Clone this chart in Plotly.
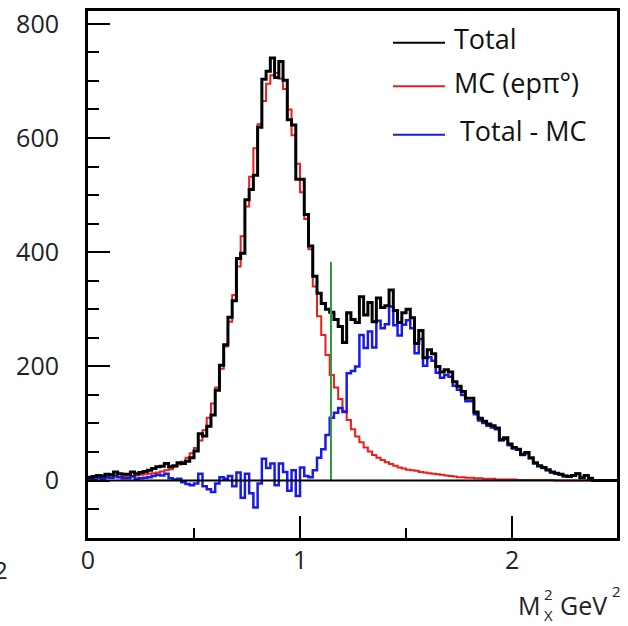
import numpy as np
import plotly.graph_objects as go

# ---------------- data ----------------
BIN_W = 0.02          # GeV^2 bin width, bins start at 0
MC = [3, 4, 4, 5, 5, 5, 6, 6, 7, 7,
      8, 9, 10, 11, 12, 13, 14, 16, 18, 20,
      24, 28, 33, 40, 48, 57, 70, 88, 110, 135,
      163, 196, 235, 278, 325, 375, 428, 480, 532, 582,
      624, 665, 695, 710, 714, 704, 686, 650, 605, 555,
      505, 458, 405, 340, 288, 255, 220, 185, 163, 143,
      122, 106, 90, 77, 67, 58, 51, 45, 40, 36,
      32, 29, 26, 23, 21, 19, 18, 17, 15, 14,
      13, 12, 11, 10, 9, 8, 7, 6, 6, 5,
      5, 4, 4, 3, 3, 3, 2, 2, 2, 2,
      2, 1, 1, 1, 1, 1, 1, 1, 1, 1,
      0, 0, 0, 0, 0, 0, 0, 0, 0, 0,
      0, 0, 0, 0, 0]
TOTAL = [6, 7, 9, 8, 11, 10, 15, 12, 11, 11,
         15, 12, 14, 16, 18, 21, 24, 25, 30, 24,
         26, 31, 30, 34, 40, 52, 82, 78, 95, 115,
         158, 202, 238, 286, 315, 389, 398, 492, 510, 535,
         619, 703, 717, 740, 706, 734, 701, 632, 623, 528,
         528, 466, 411, 358, 328, 310, 300, 295, 282, 270,
         242, 294, 282, 277, 322, 290, 312, 278, 320, 303,
         306, 334, 298, 277, 294, 300, 285, 240, 263, 215,
         229, 222, 200, 190, 194, 190, 173, 165, 156, 144,
         144, 120, 109, 104, 99, 96, 92, 72, 75, 64,
         58, 55, 46, 49, 40, 31, 26, 23, 19, 15,
         13, 11, 8, 7, 9, 12, 5, 9, 4, 0,
         0, 0, 0, 0, 0]
DIFF = [3, 3, 5, 3, 6, 5, 9, 6, 4, 4,
        7, 3, 4, 5, 6, 8, 10, 9, 12, 4,
        2, 3, -3, -6, -8, -5, 12, -10, -15, -20,
        -5, 6, 3, 8, -10, 14, -30, 12, -22, -47,
        -5, 38, 22, 30, -8, 30, 15, -18, 18, -27,
        23, 8, 6, 18, 40, 55, 80, 110, 119, 127,
        120, 188, 192, 200, 255, 232, 261, 233, 280, 267,
        274, 305, 272, 254, 273, 281, 267, 223, 248, 201,
        216, 210, 189, 180, 185, 182, 166, 159, 150, 139,
        139, 116, 105, 101, 96, 93, 90, 70, 73, 62,
        56, 54, 45, 48, 39, 30, 25, 22, 18, 14,
        13, 11, 8, 7, 9, 12, 5, 9, 4, 0,
        0, 0, 0, 0, 0]
CUT_X = 1.146          # green cut line position
CUT_TOP = 383          # green cut line height
Y_TICKS = [0, 200, 400, 600, 800]
X_TICKS = [0, 1, 2]
X_TICK_TEXT = ["0", "1", "2"]
LEGEND_NAMES = ["Total", "MC (ep\u03c0\u00b0)", "Total - MC"]

# ---------------- figure ----------------
edges = np.round(np.arange(len(MC) + 1) * BIN_W, 4)


def step(vals):
    return list(edges), list(vals) + [vals[-1]]


fig = go.Figure()
RED = "#ee1c1c"
BLUE = "#1a1ae6"
BLACK = "#000000"
GREEN = "#2f9a3f"

x, y = step(MC)
fig.add_trace(go.Scatter(x=x, y=y, mode="lines", line=dict(color=RED, width=2, shape="hv"),
                         showlegend=False, hoverinfo="skip"))
x, y = step(DIFF)
fig.add_trace(go.Scatter(x=x, y=y, mode="lines", line=dict(color=BLUE, width=2.5, shape="hv"),
                         showlegend=False, hoverinfo="skip"))
x, y = step(TOTAL)
fig.add_trace(go.Scatter(x=x, y=y, mode="lines", line=dict(color=BLACK, width=3, shape="hv"),
                         showlegend=False, hoverinfo="skip"))
fig.add_trace(go.Scatter(x=[CUT_X, CUT_X], y=[0, CUT_TOP], mode="lines",
                         line=dict(color=GREEN, width=2), showlegend=False, hoverinfo="skip"))

# zero line
fig.add_shape(type="line", xref="x", yref="y", x0=0, x1=2.5, y0=0, y1=0,
              line=dict(color="black", width=2), layer="above")

# manual legend
L, T, W, H = 88, 6, 529, 532


def px(xp):
    return (xp - L) / W


def py(yp):
    return (T + H - yp) / H


leg_cols = [BLACK, RED, BLUE]
leg_y = [38, 82, 131]
leg_tx = [452, 452, 458]
for name, col, yy, tx in zip(LEGEND_NAMES, leg_cols, leg_y, leg_tx):
    fig.add_shape(type="line", xref="paper", yref="paper", x0=px(393), x1=px(445),
                  y0=py(yy), y1=py(yy), line=dict(color=col, width=2))
    fig.add_annotation(xref="paper", yref="paper", x=px(tx), y=py(yy - 4), text=name,
                       showarrow=False, xanchor="left", yanchor="middle",
                       font=dict(size=27, color="#111"))

# axis title  M_X^2  GeV^2
fig.add_annotation(xref="paper", yref="paper", x=px(516), y=py(606), text="M",
                   showarrow=False, xanchor="left", yanchor="middle",
                   font=dict(size=25, color="#222"))
fig.add_annotation(xref="paper", yref="paper", x=px(542), y=py(595), text="2",
                   showarrow=False, xanchor="left", yanchor="middle",
                   font=dict(size=15, color="#222"))
fig.add_annotation(xref="paper", yref="paper", x=px(542), y=py(616), text="X",
                   showarrow=False, xanchor="left", yanchor="middle",
                   font=dict(size=15, color="#222"))
fig.add_annotation(xref="paper", yref="paper", x=px(558), y=py(606), text="GeV",
                   showarrow=False, xanchor="left", yanchor="middle",
                   font=dict(size=25, color="#222"))
fig.add_annotation(xref="paper", yref="paper", x=px(610), y=py(592), text="2",
                   showarrow=False, xanchor="left", yanchor="middle",
                   font=dict(size=15, color="#222"))
# clipped fragment at far left
fig.add_annotation(xref="paper", yref="paper", x=px(-8), y=py(570), text="2",
                   showarrow=False, xanchor="left", yanchor="middle",
                   font=dict(size=24, color="#222"))

fig.update_layout(
    width=628, height=626,
    margin=dict(l=L, r=628 - L - W, t=T, b=626 - T - H),
    paper_bgcolor="white", plot_bgcolor="white",
    font=dict(family="Open Sans", size=25, color="#222"),
    showlegend=False,
)
fig.update_xaxes(range=[0, 2.495], tickvals=X_TICKS, ticktext=X_TICK_TEXT,
                 ticks="inside", ticklen=22, tickwidth=2, tickcolor="black",
                 showline=True, linewidth=3, linecolor="black", mirror=True,
                 showgrid=False, zeroline=False, ticklabelstandoff=-2,
                 minor=dict(dtick=0.5, ticks="inside", ticklen=10, tickwidth=2,
                            tickcolor="black", showgrid=False))
fig.update_yaxes(range=[-100.6, 822.5], tickvals=Y_TICKS,
                 ticks="inside", ticklen=22, tickwidth=2, tickcolor="black",
                 showline=True, linewidth=3, linecolor="black", mirror=True,
                 showgrid=False, zeroline=False, ticklabelstandoff=21,
                 minor=dict(dtick=50, tick0=0, ticks="inside", ticklen=11, tickwidth=2,
                            tickcolor="black", showgrid=False))

fig.write_html("out.html")
